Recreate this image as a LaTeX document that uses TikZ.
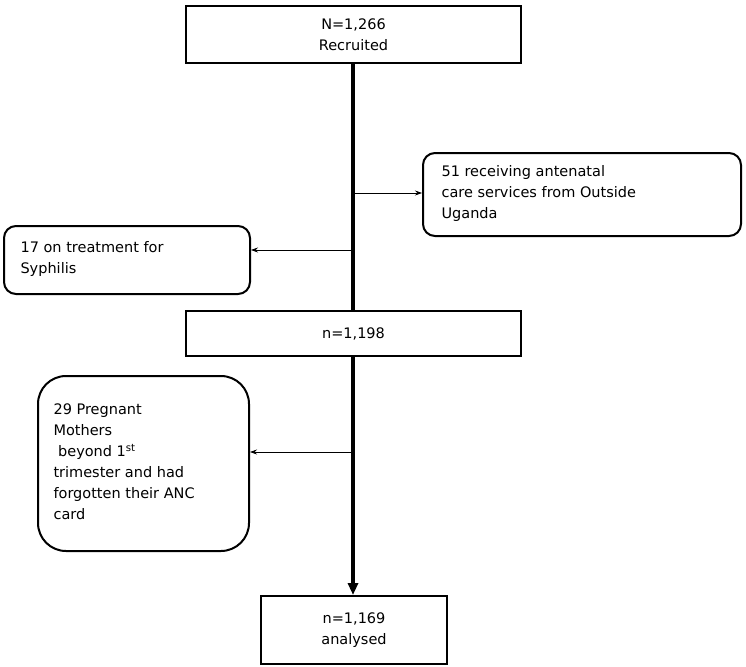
\documentclass[tikz,border=0pt]{standalone}
\usepackage{fontspec}
\setmainfont{DejaVu Sans}
\usetikzlibrary{arrows.meta}
\begin{document}
\begin{tikzpicture}[x=1pt,y=-1pt,
 box/.style={draw,line width=2pt,anchor=north west,inner sep=0pt},
 rbox/.style={box,rounded corners=12pt},
 lab/.style={font=\fontsize{14.5}{21}\selectfont},
 thin/.style={-{Stealth[length=7pt,width=5pt]},line width=0.7pt}]
\useasboundingbox (0,0) rectangle (746,666);
\node[box,minimum width=335pt,minimum height=57pt] (a) at (185,5) {};
\node[lab,align=center] at (a.center) {N=1,266\\Recruited};
\node[rbox,minimum width=318pt,minimum height=83pt] (r) at (422,152) {};
\node[lab,align=left,anchor=west] at (438,193) {51 receiving antenatal\\care services from Outside\\Uganda};
\node[rbox,minimum width=246pt,minimum height=68pt] (l) at (3,225) {};
\node[lab,align=left,anchor=west] at (17,259) {17 on treatment for\\Syphilis};
\node[box,minimum width=335pt,minimum height=45pt] (m) at (185,310) {};
\node[lab] at (m.center) {n=1,198};
\node[box,rounded corners=28pt,minimum width=211pt,minimum height=175pt] (p) at (37,375) {};
\node[lab,align=left,anchor=west] at (50,462) {29 Pregnant\\Mothers\\\ beyond 1\textsuperscript{st}\\trimester and had\\forgotten their ANC\\card};
\node[box,minimum width=186pt,minimum height=68pt] (b) at (260,595) {};
\node[lab,align=center] at (b.center) {n=1,169\\analysed};
\coordinate (j1) at (353,193);
\coordinate (j2) at (353,250);
\coordinate (j3) at (353,452);
\draw[line width=4pt] (a.south -| j1) -- (m.north -| j1);
\draw[line width=4pt,-{Triangle[length=12pt,width=10pt]}] (m.south -| j1) -- (b.north -| j1);
\draw[thin] (j1) -- (r.west |- j1);
\draw[thin] (j2) -- (l.east |- j2);
\draw[thin] (j3) -- (p.east |- j3);
\end{tikzpicture}
\end{document}
